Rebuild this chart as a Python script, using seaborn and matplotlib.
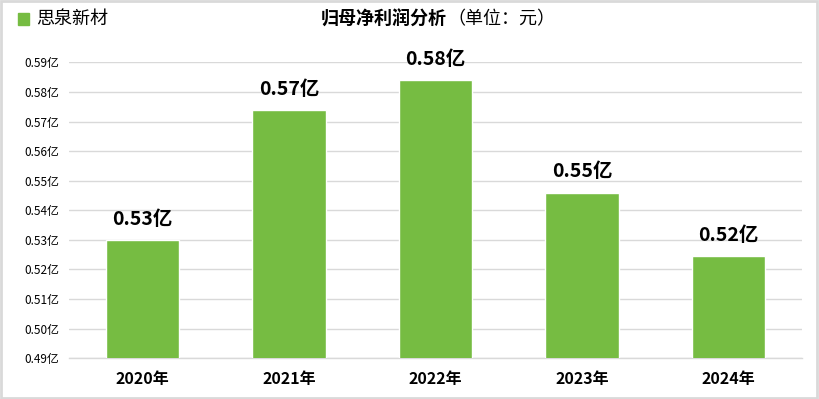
import matplotlib
matplotlib.use("Agg")
import matplotlib.pyplot as plt
import seaborn as sns
import pandas as pd
from matplotlib.patches import Rectangle

# Data
years = ["2020年", "2021年", "2022年", "2023年", "2024年"]
profit = [0.530, 0.574, 0.584, 0.546, 0.5245]   # 亿元
y_ticks = [0.49, 0.50, 0.51, 0.52, 0.53, 0.54, 0.55, 0.56, 0.57, 0.58, 0.59]
company = "思泉新材"

bar_color = "#76BC42"
grid_color = "#D9D9D9"

sns.set_theme(style="white")
plt.rcParams['font.family'] = ['Noto Sans CJK SC', 'DejaVu Sans']

df = pd.DataFrame({"year": years, "profit": profit})

# Creating the figure
fig = plt.figure(figsize=(8.19, 3.99), dpi=100)
ax = fig.add_axes([69 / 819, 40.7 / 399, 733 / 819, 296 / 399])

sns.barplot(data=df, x="year", y="profit", color=bar_color, width=0.5,
            saturation=1, ax=ax, zorder=3)

ax.set_ylim(0.49, 0.59)
ax.set_yticks(y_ticks)
ax.set_yticklabels([f"{t:.2f}亿" for t in y_ticks], fontsize=8.5, color="black")
ax.yaxis.grid(True, color=grid_color, linewidth=1, zorder=0)
ax.set_axisbelow(True)
ax.tick_params(axis="y", length=0, pad=7)
ax.tick_params(axis="x", length=0, pad=9)
for lbl in ax.get_xticklabels():
    lbl.set_fontweight("bold")
    lbl.set_fontsize(11.5)
    lbl.set_color("black")

ax.set_xlabel("")
ax.set_ylabel("")
for side in ["top", "right", "left"]:
    ax.spines[side].set_visible(False)
ax.spines["bottom"].set_color(grid_color)
ax.spines["bottom"].set_linewidth(1)

# Value labels
for i, v in enumerate(profit):
    ax.annotate(f"{v:.2f}亿", (i, v), xytext=(0, 8), textcoords="offset points",
                ha="center", va="bottom", fontsize=14, fontweight="bold", color="black")

# Title
fig.text(0.546, 0.952, "归母净利润分析", ha="right", va="center",
         fontsize=13, fontweight="bold", color="black")
fig.text(0.546, 0.952, "（单位：元）", ha="left", va="center", fontsize=13, color="black")

# Legend marker + company name
fig.patches.append(Rectangle((18 / 819, 1 - 25 / 399), 11 / 819, 12 / 399,
                             transform=fig.transFigure, color=bar_color))
fig.text(36 / 819, 1 - 19 / 399, company, ha="left", va="center", fontsize=13, color="black")

# Outer frame
fig.patches.append(Rectangle((0.001, 0.002), 0.997, 0.995, transform=fig.transFigure,
                             fill=False, edgecolor=grid_color, linewidth=2))

# Saving the figure
plt.savefig("out.png", dpi=100)
